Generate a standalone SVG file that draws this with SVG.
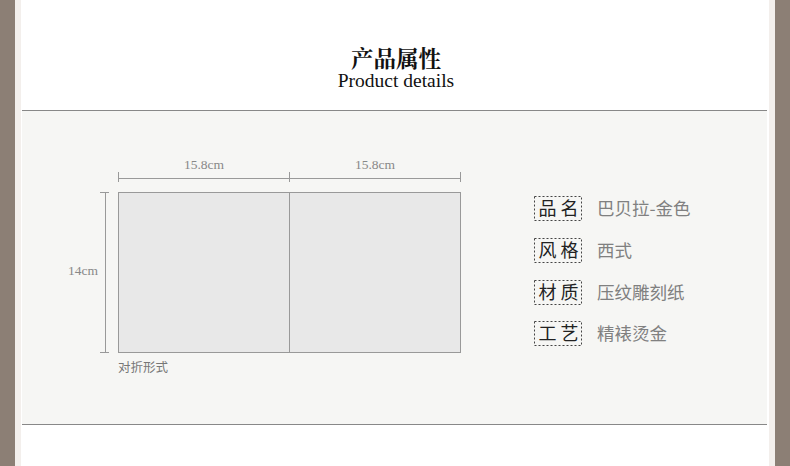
<svg xmlns="http://www.w3.org/2000/svg" width="790" height="466" viewBox="0 0 790 466">
<style>
.serif{font-family:"Liberation Serif","Noto Serif CJK SC","Noto Sans CJK SC",serif}
.sans{font-family:"Noto Sans CJK SC","Noto Sans",sans-serif}
.dim{fill:#888;font-size:13.5px}
.dl{stroke:#999;stroke-width:1;fill:none}
.lab{font-size:18px;fill:#222}
.val{font-size:17.5px;fill:#808080}
.box{fill:none;stroke:#444;stroke-width:1;stroke-dasharray:2,2}
.card{fill:#e8e8e8;stroke:#999;stroke-width:1}
</style>
<rect x="0" y="0" width="790" height="466" fill="#ffffff"/>
<rect x="0" y="0" width="15" height="466" fill="#8c7f75"/>
<rect x="15" y="0" width="6" height="466" fill="#f3efec"/>
<rect x="775" y="0" width="15" height="466" fill="#8c7f75"/>
<rect x="769" y="0" width="6" height="466" fill="#f3efec"/>
<g id="panel">
<rect x="22" y="110" width="745" height="314" fill="#f6f6f4"/>
<line x1="22" y1="110.5" x2="767" y2="110.5" stroke="#888"/>
<line x1="22" y1="424.5" x2="767" y2="424.5" stroke="#888"/>
</g>
<g id="title">
<text x="396" y="67" text-anchor="middle" class="serif" font-size="22.5" font-weight="bold" fill="#111">产品属性</text>
<text x="396" y="87" text-anchor="middle" class="serif" font-size="19.5" fill="#111">Product details</text>
</g>
<g id="card">
<rect class="card" x="118.5" y="192.5" width="342" height="160"/>
<line class="dl" x1="289.5" y1="192.5" x2="289.5" y2="352.5"/>
</g>
<g id="dimensions">
<line class="dl" x1="118.5" y1="178.5" x2="460.5" y2="178.5"/>
<line class="dl" x1="118.5" y1="172" x2="118.5" y2="182"/>
<line class="dl" x1="289.5" y1="172" x2="289.5" y2="182"/>
<line class="dl" x1="460.5" y1="172" x2="460.5" y2="182"/>
<text class="serif dim" x="204" y="169" text-anchor="middle">15.8cm</text>
<text class="serif dim" x="375" y="169" text-anchor="middle">15.8cm</text>
<line class="dl" x1="105.5" y1="192.5" x2="105.5" y2="352.5"/>
<line class="dl" x1="100" y1="192.5" x2="109" y2="192.5"/>
<line class="dl" x1="100" y1="352.5" x2="109" y2="352.5"/>
<text class="serif dim" x="83" y="275" text-anchor="middle">14cm</text>
<text class="sans" x="118" y="372" font-size="12.5" fill="#777">对折形式</text>
</g>
<g id="row1">
<rect class="box" x="534.5" y="196.5" width="47" height="24"/>
<text class="sans lab" x="538.5" y="215">品 名</text>
<text class="sans val" x="597" y="215">巴贝拉-金色</text>
</g>
<g id="row2">
<rect class="box" x="534.5" y="238.5" width="47" height="24"/>
<text class="sans lab" x="538.5" y="257">风 格</text>
<text class="sans val" x="597" y="257">西式</text>
</g>
<g id="row3">
<rect class="box" x="534.5" y="280.5" width="47" height="24"/>
<text class="sans lab" x="538.5" y="299">材 质</text>
<text class="sans val" x="597" y="299">压纹雕刻纸</text>
</g>
<g id="row4">
<rect class="box" x="534.5" y="321.5" width="47" height="24"/>
<text class="sans lab" x="538.5" y="340">工 艺</text>
<text class="sans val" x="597" y="340">精裱烫金</text>
</g>
</svg>
